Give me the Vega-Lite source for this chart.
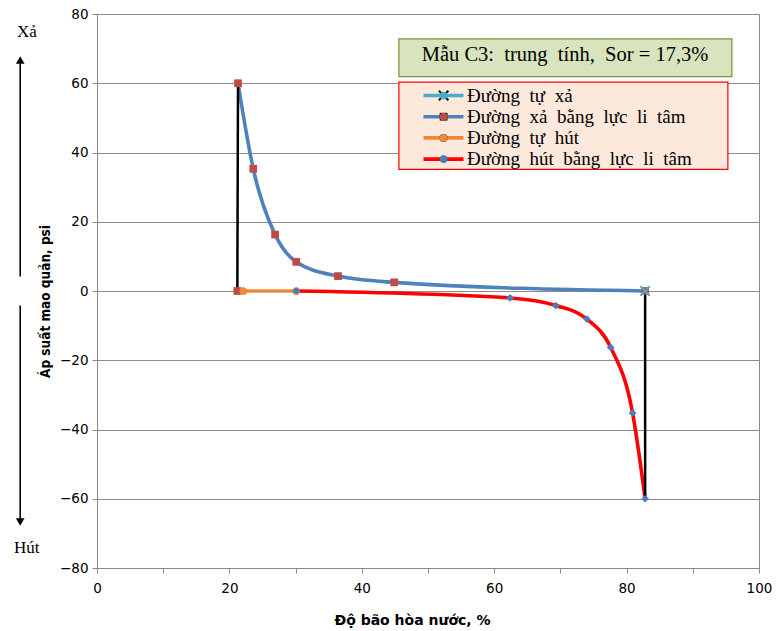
{
  "$schema": "https://vega.github.io/schema/vega-lite/v6.json",
  "width": 662,
  "height": 554,
  "autosize": {"type": "none"},
  "padding": {"left": 97, "top": 14, "right": 18, "bottom": 63},
  "background": "white",
  "config": {
    "view": {"stroke": "#8a8a8a", "strokeWidth": 1},
    "axis": {
      "domainColor": "#8a8a8a",
      "tickColor": "#8a8a8a",
      "gridColor": "#8c8c8c",
      "gridWidth": 1.2,
      "labelFont": "DejaVu Sans",
      "labelFontSize": 13.5,
      "labelColor": "#000000",
      "labelFlush": false,
      "labelOverlap": false,
      "titleColor": "#000000",
      "titleFontWeight": "bold"
    }
  },
  "datasets": {
    "lines": [
      {"s": "Đường tự xả", "x": 82.8, "y": 0},
      {"s": "Đường xả bằng lực li tâm", "x": 21.3, "y": 60},
      {"s": "Đường xả bằng lực li tâm", "x": 23.6, "y": 35.3},
      {"s": "Đường xả bằng lực li tâm", "x": 26.9, "y": 16.3},
      {"s": "Đường xả bằng lực li tâm", "x": 30.1, "y": 8.4},
      {"s": "Đường xả bằng lực li tâm", "x": 36.4, "y": 4.3},
      {"s": "Đường xả bằng lực li tâm", "x": 44.9, "y": 2.5},
      {"s": "Đường xả bằng lực li tâm", "x": 82.8, "y": 0},
      {"s": "Đường tự hút", "x": 22.1, "y": 0},
      {"s": "Đường tự hút", "x": 30.1, "y": 0},
      {"s": "Đường hút bằng lực li tâm", "x": 30.1, "y": 0},
      {"s": "Đường hút bằng lực li tâm", "x": 62.4, "y": -2.0},
      {"s": "Đường hút bằng lực li tâm", "x": 69.3, "y": -4.2},
      {"s": "Đường hút bằng lực li tâm", "x": 74.0, "y": -8.1},
      {"s": "Đường hút bằng lực li tâm", "x": 77.6, "y": -16.3},
      {"s": "Đường hút bằng lực li tâm", "x": 80.9, "y": -35.2},
      {"s": "Đường hút bằng lực li tâm", "x": 82.8, "y": -60}
    ],
    "pts": [
      {"s": "Đường xả bằng lực li tâm", "x": 21.2, "y": 0},
      {"s": "Đường xả bằng lực li tâm", "x": 21.3, "y": 60},
      {"s": "Đường xả bằng lực li tâm", "x": 23.6, "y": 35.3},
      {"s": "Đường xả bằng lực li tâm", "x": 26.9, "y": 16.3},
      {"s": "Đường xả bằng lực li tâm", "x": 30.1, "y": 8.4},
      {"s": "Đường xả bằng lực li tâm", "x": 36.4, "y": 4.3},
      {"s": "Đường xả bằng lực li tâm", "x": 44.9, "y": 2.5},
      {"s": "Đường xả bằng lực li tâm", "x": 82.8, "y": 0},
      {"s": "Đường tự hút", "x": 22.1, "y": 0},
      {"s": "Đường tự hút", "x": 30.1, "y": 0},
      {"s": "Đường hút bằng lực li tâm", "x": 30.1, "y": 0},
      {"s": "Đường hút bằng lực li tâm", "x": 62.4, "y": -2.0},
      {"s": "Đường hút bằng lực li tâm", "x": 69.3, "y": -4.2},
      {"s": "Đường hút bằng lực li tâm", "x": 74.0, "y": -8.1},
      {"s": "Đường hút bằng lực li tâm", "x": 77.6, "y": -16.3},
      {"s": "Đường hút bằng lực li tâm", "x": 80.9, "y": -35.2},
      {"s": "Đường hút bằng lực li tâm", "x": 82.8, "y": -60},
      {"s": "Đường tự xả", "x": 82.8, "y": 0}
    ],
    "links": [
      {"g": "a", "x": 21.2, "y": 0},
      {"g": "a", "x": 21.3, "y": 60},
      {"g": "b", "x": 82.8, "y": 0},
      {"g": "b", "x": 82.8, "y": -60}
    ],
    "titlebox": [{"x": 45.6, "x2": 95.9, "y": 72.8, "y2": 61.9}],
    "legendbox": [{"x": 45.6, "x2": 95.3, "y": 60.3, "y2": 35.1}],
    "titletext": [{"x": 70.7, "y": 68.1, "t": "Mẫu\u00a0C3:\u00a0\u00a0trung\u00a0\u00a0tính,\u00a0\u00a0Sor\u00a0=\u00a017,3%"}],
    "arrows": [
      {"dir": "up", "x": -11.6, "y": 4.2, "y2": 66.0, "hy": 66.7},
      {"dir": "down", "x": -11.6, "y": -4.2, "y2": -66.0, "hy": -66.7}
    ],
    "sidetext": [
      {"x": -10.6, "y": 74.7, "t": "Xả"},
      {"x": -10.6, "y": -74.1, "t": "Hút"}
    ]
  },
  "encoding": {
    "x": {
      "field": "x",
      "type": "quantitative",
      "scale": {"domain": [0, 100], "nice": false, "zero": false},
      "axis": {
        "values": [0, 10, 20, 30, 40, 50, 60, 70, 80, 90, 100],
        "labelExpr": "datum.value % 20 === 0 ? datum.label : ''",
        "grid": false,
        "tickSize": 5,
        "labelPadding": 8,
        "title": "Độ bão hòa nước, %",
        "titleFont": "DejaVu Sans",
        "titleFontSize": 14,
        "titleX": 315,
        "titleY": 52,
        "titleBaseline": "middle"
      }
    },
    "y": {
      "field": "y",
      "type": "quantitative",
      "scale": {"domain": [-80, 80], "nice": false, "zero": false},
      "axis": {
        "values": [-80, -60, -40, -20, 0, 20, 40, 60, 80],
        "grid": true,
        "tickSize": 5,
        "labelPadding": 4,
        "title": "Áp suất mao quản, psi",
        "titleFont": "Liberation Sans Narrow, DejaVu Sans Condensed, Liberation Sans",
        "titleFontSize": 13.5,
        "titleX": -52,
        "titleY": 287,
        "titleAlign": "center",
        "titleBaseline": "middle",
        "titleAngle": -90
      }
    }
  },
  "layer": [
    {
      "data": {"name": "titlebox"},
      "mark": {"type": "rect", "fill": "#D7E4BD", "stroke": "#77933C", "strokeWidth": 1.2},
      "encoding": {"x2": {"field": "x2"}, "y2": {"field": "y2"}}
    },
    {
      "data": {"name": "legendbox"},
      "mark": {"type": "rect", "fill": "#FDE9DC", "stroke": "#FF0000", "strokeWidth": 1.2},
      "encoding": {"x2": {"field": "x2"}, "y2": {"field": "y2"}}
    },
    {
      "data": {"name": "titletext"},
      "mark": {"type": "text", "font": "Liberation Serif", "fontSize": 20.5, "color": "#000000", "align": "center", "baseline": "middle"},
      "encoding": {"text": {"field": "t"}}
    },
    {
      "data": {"name": "lines"},
      "mark": {"type": "line", "interpolate": "monotone", "strokeWidth": 3.6},
      "encoding": {
        "stroke": {
          "field": "s",
          "type": "nominal",
          "sort": ["Đường tự xả", "Đường xả bằng lực li tâm", "Đường tự hút", "Đường hút bằng lực li tâm"],
          "scale": {"range": ["#4BACC6", "#4F81BD", "#EC8A3C", "#FF0000"]},
          "legend": {
            "title": null,
            "orient": "none",
            "legendX": 337,
            "legendY": 72,
            "padding": 0,
            "symbolType": "M-4,0H4",
            "symbolSize": 100,
            "symbolStrokeWidth": 3.6,
            "labelFont": "Liberation Serif",
            "labelFontSize": 19,
            "labelColor": "#000000",
            "labelLimit": 400,
            "labelOffset": 14,
            "rowPadding": 1.2,
            "labelExpr": "replace(datum.label, / /g, '\u00a0\u00a0')"
          }
        },
        "detail": {"field": "s"}
      }
    },
    {
      "data": {"name": "links"},
      "mark": {"type": "line", "color": "#000000", "strokeWidth": 2.5},
      "encoding": {"detail": {"field": "g"}}
    },
    {
      "data": {"name": "pts"},
      "mark": {"type": "point", "filled": true, "size": 60, "opacity": 1, "strokeWidth": 0},
      "encoding": {
        "shape": {
          "field": "s",
          "type": "nominal",
          "sort": ["Đường tự xả", "Đường xả bằng lực li tâm", "Đường tự hút", "Đường hút bằng lực li tâm"],
          "scale": {"range": ["M-1.4,-1.05L-1.05,-1.4L0,-0.35L1.05,-1.4L1.4,-1.05L0.35,0L1.4,1.05L1.05,1.4L0,0.35L-1.05,1.4L-1.4,1.05L-0.35,0Z", "square", "circle", "diamond"]},
          "legend": {
            "title": null,
            "orient": "none",
            "legendX": 337.1,
            "legendY": 72,
            "padding": 0,
            "symbolSize": 60,
            "symbolStrokeWidth": 0,
            "labelFont": "Liberation Serif",
            "labelFontSize": 19,
            "labelColor": "rgba(0,0,0,0)",
            "labelExpr": "'\u00a0'",
            "labelLimit": 400,
            "labelOffset": 3,
            "rowPadding": 1.2
          }
        },
        "fill": {
          "field": "s",
          "type": "nominal",
          "sort": ["Đường tự xả", "Đường xả bằng lực li tâm", "Đường tự hút", "Đường hút bằng lực li tâm"],
          "scale": {"range": ["#4BACC6", "#BE4B48", "#EC8A3C", "#4A7EBB"]},
          "legend": {
            "title": null,
            "orient": "none",
            "legendX": 337.1,
            "legendY": 72,
            "padding": 0,
            "symbolSize": 60,
            "symbolStrokeWidth": 0,
            "labelFont": "Liberation Serif",
            "labelFontSize": 19,
            "labelColor": "rgba(0,0,0,0)",
            "labelExpr": "'\u00a0'",
            "labelLimit": 400,
            "labelOffset": 3,
            "rowPadding": 1.2
          }
        }
      }
    },
    {
      "data": {"name": "arrows"},
      "mark": {"type": "rule", "color": "#000000", "strokeWidth": 1.6},
      "encoding": {"y2": {"field": "y2"}}
    },
    {
      "data": {"name": "arrows"},
      "transform": [{"filter": "datum.dir === 'up'"}],
      "mark": {"type": "point", "shape": "triangle-up", "filled": true, "color": "#000000", "size": 75, "opacity": 1},
      "encoding": {"y": {"field": "hy", "type": "quantitative"}}
    },
    {
      "data": {"name": "arrows"},
      "transform": [{"filter": "datum.dir === 'down'"}],
      "mark": {"type": "point", "shape": "triangle-down", "filled": true, "color": "#000000", "size": 75, "opacity": 1},
      "encoding": {"y": {"field": "hy", "type": "quantitative"}}
    },
    {
      "data": {"name": "sidetext"},
      "mark": {"type": "text", "font": "Liberation Serif", "fontSize": 17, "color": "#000000", "align": "center", "baseline": "middle"},
      "encoding": {"text": {"field": "t"}}
    }
  ]
}
